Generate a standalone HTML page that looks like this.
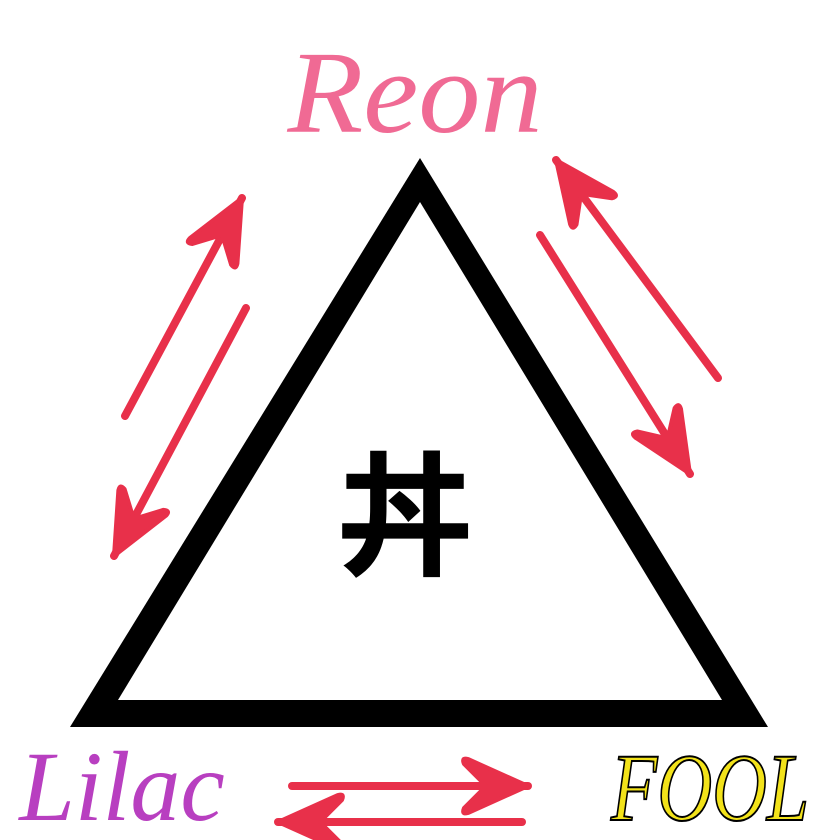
<!DOCTYPE html>
<html><head><meta charset="utf-8"><style>
html,body{margin:0;padding:0;background:#fff;}
body{width:840px;height:840px;overflow:hidden;position:relative;}
svg{position:absolute;left:0;top:0;}
</style></head><body>
<svg width="840" height="840" viewBox="0 0 840 840" xmlns="http://www.w3.org/2000/svg">
<defs>
<marker id="h" markerUnits="userSpaceOnUse" markerWidth="90" markerHeight="90" refX="70" refY="45" orient="auto" viewBox="0 0 90 90">
<path d="M70 45 L10 18 Q3 16 6 23 L28 45 L6 67 Q3 74 10 72 Z" fill="#e8304a" stroke="#e8304a" stroke-width="4" stroke-linejoin="round"/>
</marker>
</defs>
<path d="M420 158 L768 727 L70 727 Z" fill="#000"/>
<path d="M420 202 L722 700 L118 700 Z" fill="#fff"/>
<g stroke="#e8304a" stroke-width="8" stroke-linecap="round" fill="none">
<line x1="125" y1="416" x2="242" y2="198" marker-end="url(#h)"/>
<line x1="246" y1="308" x2="114" y2="556" marker-end="url(#h)"/>
<line x1="718" y1="378" x2="556" y2="160" marker-end="url(#h)"/>
<line x1="540" y1="235" x2="690" y2="474" marker-end="url(#h)"/>
<line x1="292" y1="786" x2="528" y2="786" marker-end="url(#h)"/>
<line x1="522" y1="822" x2="278" y2="822" marker-end="url(#h)"/>
</g>
<text x="405" y="565" font-family="Noto Sans CJK JP, sans-serif" font-weight="bold" font-size="135" text-anchor="middle" fill="#000">丼</text>
<text x="415" y="132" font-family="Liberation Serif, serif" font-style="italic" font-size="118" text-anchor="middle" fill="#f06a94" textLength="255" lengthAdjust="spacingAndGlyphs">Reon</text>
<text x="122" y="820" font-family="Liberation Serif, serif" font-style="italic" font-size="100" text-anchor="middle" fill="#b83fc0">Lilac</text>
<text x="710" y="820" font-family="Liberation Serif, serif" font-style="italic" font-size="96" text-anchor="middle" fill="#f2e21a" stroke="#000" stroke-width="2" textLength="198" lengthAdjust="spacingAndGlyphs">FOOL</text>
</svg>
</body></html>
